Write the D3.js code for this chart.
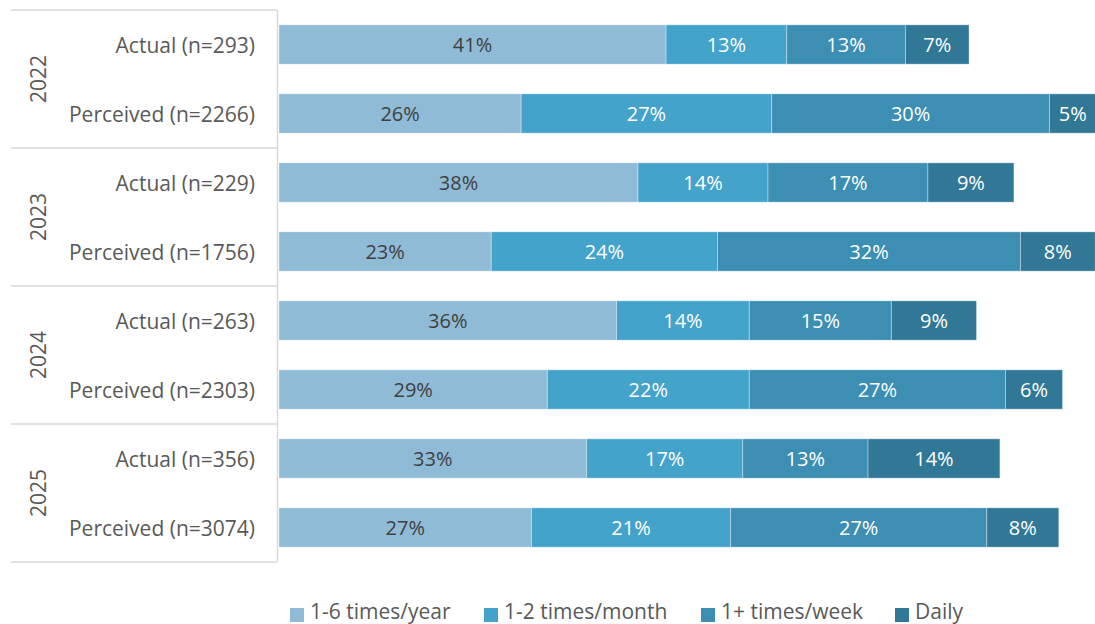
<!DOCTYPE html>
<html>
<head>
<meta charset="utf-8">
<script src="https://cdn.jsdelivr.net/npm/d3@7"></script>
<style>
  body { margin: 0; overflow: hidden; background: #fff; }
  text { font-family: "Open Sans", Lato, sans-serif; }
</style>
</head>
<body>
<div id="chart"></div>
<script>
const years = ['2022', '2023', '2024', '2025'];
const categories = [
  'Actual (n=293)', 'Perceived (n=2266)',
  'Actual (n=229)', 'Perceived (n=1756)',
  'Actual (n=263)', 'Perceived (n=2303)',
  'Actual (n=356)', 'Perceived (n=3074)',
];
const series = ['1-6 times/year', '1-2 times/month', '1+ times/week', 'Daily'];
// shares in %
const yearly = [41.4, 25.9, 38.4, 22.7, 36.1, 28.7, 32.9, 27.0];
const monthly = [12.9, 26.8, 13.9, 24.2, 14.2, 21.6, 16.7, 21.3];
const weekly = [12.7, 29.7, 17.1, 32.4, 15.2, 27.4, 13.4, 27.4];
const daily = [6.8, 5.0, 9.2, 8.0, 9.1, 6.1, 14.1, 7.7];
const colors = ['#8fbbd6', '#43a3cb', '#3c8eb2', '#307896'];

const width = 1095;
const height = 624;
const margin = { top: 10, left: 279, bottom: 62 };
const plotBottom = height - margin.bottom;

const rows = categories.map((c, i) => ({
  id: i,
  cat: c,
  '1-6 times/year': yearly[i],
  '1-2 times/month': monthly[i],
  '1+ times/week': weekly[i],
  'Daily': daily[i],
}));

const stacked = d3.stack().keys(series)(rows);

const svg = d3.select('#chart')
  .append('svg')
  .attr('width', width)
  .attr('height', height);

// plot runs past the right edge (the source was cropped)
const x = d3.scaleLinear().domain([0, 100]).range([margin.left, margin.left + 935]);
const y = d3.scaleBand()
  .domain(rows.map(d => d.id))
  .range([margin.top, plotBottom])
  .paddingInner(0.43)
  .paddingOuter(0.215);

const groupY = d3.scaleBand().domain(years).range([margin.top, plotBottom]);

// left axis frame
const frame = svg.append('g').attr('stroke', '#d9d9d9').attr('stroke-width', 1.5);
frame.append('line')
  .attr('x1', 277.5).attr('x2', 277.5)
  .attr('y1', margin.top).attr('y2', plotBottom);
frame.selectAll('line.sep')
  .data(years.concat(['end']))
  .enter()
  .append('line')
  .attr('class', 'sep')
  .attr('x1', 11).attr('x2', 277.5)
  .attr('y1', (d, i) => i < years.length ? groupY(d) : plotBottom)
  .attr('y2', (d, i) => i < years.length ? groupY(d) : plotBottom);

// year labels
svg.selectAll('text.year')
  .data(years)
  .enter()
  .append('text')
  .attr('class', 'year')
  .attr('transform', d => `translate(38,${groupY(d) + groupY.bandwidth() / 2}) rotate(-90)`)
  .attr('text-anchor', 'middle')
  .attr('dominant-baseline', 'central')
  .attr('fill', '#595959')
  .attr('font-size', 21)
  .text(d => d);

// category labels
svg.selectAll('text.cat')
  .data(rows)
  .enter()
  .append('text')
  .attr('class', 'cat')
  .attr('x', 255)
  .attr('y', d => y(d.id) + y.bandwidth() / 2)
  .attr('text-anchor', 'end')
  .attr('dominant-baseline', 'central')
  .attr('fill', '#595959')
  .attr('font-size', 21)
  .text(d => d.cat);

// bars
const layer = svg.selectAll('g.layer')
  .data(stacked)
  .enter()
  .append('g')
  .attr('class', 'layer')
  .attr('fill', (d, i) => colors[i]);

layer.selectAll('rect')
  .data(d => d)
  .enter()
  .append('rect')
  .attr('x', d => x(d[0]))
  .attr('width', d => x(d[1]) - x(d[0]))
  .attr('y', d => y(d.data.id))
  .attr('height', y.bandwidth())
  .attr('stroke', '#fff')
  .attr('stroke-opacity', 0.35)
  .attr('stroke-width', 1);

const fmt = d3.format('.0%');
layer.selectAll('text')
  .data(d => d.map(v => Object.assign(v, { key: d.key })))
  .enter()
  .append('text')
  .attr('x', d => (x(d[0]) + x(d[1])) / 2)
  .attr('y', d => y(d.data.id) + y.bandwidth() / 2)
  .attr('text-anchor', 'middle')
  .attr('dominant-baseline', 'central')
  .attr('font-size', 20)
  .attr('fill', d => d.key === series[0] ? '#404040' : '#fff')
  .text(d => fmt((d[1] - d[0]) / 100));

// legend (bottom row is cut by the frame edge, as in the source)
const legendX = [290, 484, 701, 895];
const legend = svg.selectAll('g.legend')
  .data(series)
  .enter()
  .append('g')
  .attr('class', 'legend')
  .attr('transform', (d, i) => `translate(${legendX[i]},619)`);
legend.append('rect')
  .attr('y', -11)
  .attr('width', 14)
  .attr('height', 14)
  .attr('fill', (d, i) => colors[i]);
legend.append('text')
  .attr('x', 20)
  .attr('font-size', 21)
  .attr('fill', '#595959')
  .text(d => d);
</script>
</body>
</html>
